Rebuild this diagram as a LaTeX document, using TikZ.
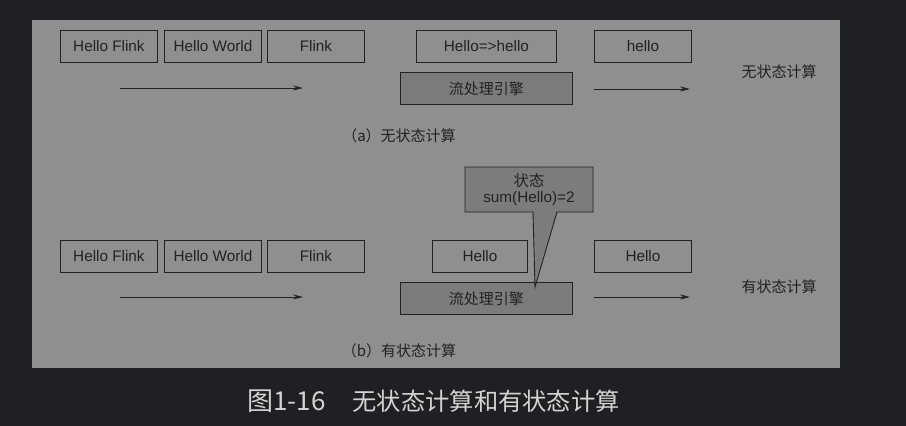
\documentclass[tikz,border=0pt]{standalone}
\usepackage{fontspec}
\setmainfont{Liberation Sans}
\newfontfamily\cjk{Noto Sans CJK SC}
\usetikzlibrary{arrows.meta}
\definecolor{bgdark}{HTML}{1F2023}
\definecolor{panel}{HTML}{8F8F8F}
\definecolor{engine}{HTML}{7C7C7D}
\definecolor{ink}{HTML}{222222}
\definecolor{capt}{HTML}{D2D2D2}
\tikzset{
  databox/.style={draw=ink, line width=0.9pt, text=ink, minimum height=32pt, inner sep=0pt, font=\fontsize{15.3}{17}\selectfont, anchor=north west},
  enginebox/.style={databox, fill=engine, font=\cjk\fontsize{15}{17}\selectfont},
  flow/.style={draw=ink, line width=0.9pt, -{Stealth[length=10pt,width=5pt]}},
  label/.style={text=ink, font=\cjk\fontsize{15}{17}\selectfont, inner sep=0pt},
}
\begin{document}
\begin{tikzpicture}[x=1pt,y=-1pt]
\fill[bgdark] (0,0) rectangle (906,426);
\useasboundingbox (0,0) rectangle (906,426);
\fill[panel] (32,20) rectangle (840,368);

% (a) stateless
\node[databox, minimum width=97pt] (a1) at (60,30) {Hello Flink};
\node[databox, minimum width=97pt] (a2) at (164,30) {Hello World};
\node[databox, minimum width=97pt] (a3) at (267,30) {Flink};
\node[databox, minimum width=140pt] (a4) at (416,30) {Hello=>hello};
\node[databox, minimum width=97pt] (a5) at (594,30) {hello};
\node[enginebox, minimum width=172pt] (ae) at (400,72) {流处理引擎};
\coordinate (as1) at (120,88);
\coordinate (at1) at (303,88);
\coordinate (as2) at (594,89);
\coordinate (at2) at (690,89);
\draw[flow] (as1) -- (at1);
\draw[flow] (as2) -- (at2);
\node[label] (ar) at (779,72) {无状态计算};
\node[label] (acap) at (399,136) {（a）无状态计算};

% (b) stateful
\node[databox, minimum width=97pt] (b1) at (60,240) {Hello Flink};
\node[databox, minimum width=97pt] (b2) at (164,240) {Hello World};
\node[databox, minimum width=97pt] (b3) at (267,240) {Flink};
\node[databox, minimum width=95pt] (b4) at (432,240) {Hello};
\node[databox, minimum width=97pt] (b5) at (594,240) {Hello};
\node[enginebox, minimum width=172pt] (be) at (400,282) {流处理引擎};
\coordinate (bs1) at (120,297);
\coordinate (bt1) at (303,297);
\coordinate (bs2) at (594,297);
\coordinate (bt2) at (690,297);
\draw[flow] (bs1) -- (bt1);
\draw[flow] (bs2) -- (bt2);
\node[label] (br) at (779,287) {有状态计算};
\node[label] (bcap) at (399,351) {（b）有状态计算};

% callout
\coordinate (tip) at (535,287);
\filldraw[fill=engine, draw=ink, line width=0.9pt, line join=miter]
  (465,167) -- (593,167) -- (593,212) -- (557,212) -- (tip) -- (533,212) -- (465,212) -- cycle;
\node[text=ink, align=center, inner sep=0pt, font=\fontsize{15.3}{16}\selectfont] (state) at (529,190)
  {{\cjk 状态}\\sum(Hello)=2};

% caption
\node[text=capt, inner sep=0pt, anchor=west, font=\cjk\fontsize{26}{30}\selectfont] (caption) at (247,401)
  {图1-16\hspace{27pt}{\fontsize{24.3}{30}\selectfont 无状态计算和有状态计算}};
\end{tikzpicture}
\end{document}
